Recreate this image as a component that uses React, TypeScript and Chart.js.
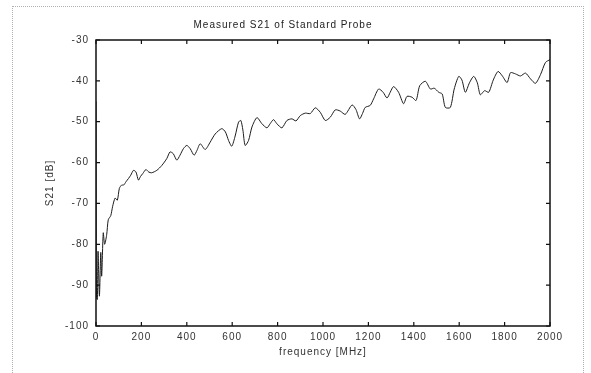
import React, { useEffect, useRef } from "react";
import { Chart, registerables } from "chart.js";

Chart.register(...registerables);

const freqMHz: number[] = [
  0, 2, 6, 9, 15, 21, 25, 32, 38, 47, 54, 65, 73, 84, 94, 103, 113, 122, 132, 143,
  153, 165, 176, 187, 196, 206, 220, 232, 245, 268, 290, 312, 326, 340, 356, 370,
  385, 400, 415, 432, 445, 459, 481, 503, 525, 554, 570, 584, 598, 613, 628, 638,
  647, 657, 672, 687, 709, 731, 753, 767, 782, 797, 819, 841, 863, 881, 900, 922,
  944, 966, 988, 1010, 1032, 1054, 1076, 1098, 1128, 1145, 1161, 1174, 1186, 1208,
  1223, 1245, 1265, 1282, 1296, 1311, 1333, 1355, 1370, 1392, 1410, 1426, 1451,
  1473, 1490, 1510, 1525, 1539, 1561, 1578, 1598, 1612, 1627, 1645, 1664, 1680,
  1693, 1712, 1730, 1750, 1771, 1790, 1811, 1826, 1848, 1870, 1892, 1914, 1936,
  1958, 1980, 2000,
];

const s21dB: number[] = [
  -45, -93, -93.5, -81.7, -92.7, -82, -87.8, -77.2, -80, -77.7, -74, -73, -70.8,
  -68.7, -69.2, -66.3, -65.5, -65.5, -64.7, -63.9, -63.1, -61.9, -62.3, -64.3,
  -63.4, -62.7, -61.7, -62.3, -62.5, -61.9, -60.7, -59, -57.4, -57.8, -59.4, -58.2,
  -56.6, -55.8, -56.6, -58.2, -57, -55.4, -56.8, -55, -53, -51.7, -52.5, -54.6, -56,
  -53.5, -50.1, -49.7, -52, -55.8, -54.6, -51.3, -49, -50.5, -51.5, -50.5, -49.5,
  -50.5, -51.5, -49.7, -49.3, -49.8, -48.5, -47.9, -48, -46.6, -47.7, -49.7, -48.9,
  -47.1, -47.4, -48.2, -45.9, -47, -49.3, -48, -46.5, -46, -44.4, -42, -42.8, -44.2,
  -42.8, -41.4, -42.8, -45.6, -43.8, -44, -44.8, -41.2, -40.1, -42, -41.8, -42.8,
  -43.2, -46.5, -46.5, -42, -38.9, -39.8, -42.8, -40.5, -38.9, -40.5, -43.4, -42.4,
  -42.8, -39.8, -37.7, -38.8, -40.4, -38, -38.3, -38.8, -38.1, -39.5, -40.6, -38.5,
  -35.5, -34.8,
];

const xTicks: number[] = [0, 200, 400, 600, 800, 1000, 1200, 1400, 1600, 1800, 2000];
const yTicks: number[] = [-100, -90, -80, -70, -60, -50, -40, -30];

const chartTitle = "Measured S21 of Standard Probe";
const xTitle = "frequency [MHz]";
const yTitle = "S21 [dB]";

const FONT = "'Liberation Sans', Arial, sans-serif";

const spacingPlugin = {
  id: "spacing",
  beforeUpdate(chart: any) {
    try {
      chart.ctx.letterSpacing = "1px";
    } catch (e) {}
  },
  beforeDraw(chart: any) {
    try {
      chart.ctx.letterSpacing = "1px";
    } catch (e) {}
  },
};

const boxPlugin = {
  id: "box",
  afterDraw(chart: any) {
    const { ctx, chartArea } = chart;
    const { left, right, top, bottom } = chartArea;
    const xs = chart.scales.x;
    const ys = chart.scales.y;
    ctx.save();
    ctx.strokeStyle = "#111";
    ctx.lineWidth = 1.5;
    ctx.strokeRect(left, top, right - left, bottom - top);
    ctx.lineWidth = 1.2;
    const tl = 4;
    ctx.beginPath();
    xTicks.forEach((v) => {
      const px = xs.getPixelForValue(v);
      ctx.moveTo(px, bottom);
      ctx.lineTo(px, bottom - tl);
      ctx.moveTo(px, top);
      ctx.lineTo(px, top + tl);
    });
    yTicks.forEach((v) => {
      const py = ys.getPixelForValue(v);
      ctx.moveTo(left, py);
      ctx.lineTo(left + tl, py);
      ctx.moveTo(right, py);
      ctx.lineTo(right - tl, py);
    });
    ctx.stroke();
    ctx.fillStyle = "#222";
    ctx.font = `10px ${FONT}`;
    try {
      ctx.letterSpacing = "1px";
    } catch (e) {}
    ctx.textAlign = "center";
    ctx.textBaseline = "middle";
    ctx.fillText(chartTitle, 283, 25);
    ctx.restore();
  },
};

export default function App() {
  const ref = useRef<HTMLCanvasElement | null>(null);
  useEffect(() => {
    if (!ref.current) return;
    const chart = new Chart(ref.current, {
      type: "line",
      data: {
        datasets: [
          {
            data: freqMHz.map((f, i) => ({ x: f, y: s21dB[i] })),
            borderColor: "#1c1c1c",
            borderWidth: 1,
            pointRadius: 0,
            tension: 0.25,
            fill: false,
          },
        ],
      },
      options: {
        responsive: false,
        animation: false,
        layout: { padding: { left: 0, right: 41, top: 40, bottom: 0 } },
        plugins: {
          legend: { display: false },
          tooltip: { enabled: false },
          title: { display: false },
        },
        scales: {
          x: {
            type: "linear",
            min: 0,
            max: 2000,
            afterBuildTicks: (s: any) => {
              s.ticks = xTicks.map((v) => ({ value: v }));
            },
            afterFit: (s: any) => {
              s.height = 47;
            },
            ticks: {
              autoSkip: false,
              maxRotation: 0,
              padding: 5,
              color: "#333",
              font: { family: FONT, size: 10 },
              callback: (v: any) => String(v),
            },
            grid: { display: false, drawTicks: false },
            border: { display: false },
            title: {
              display: true,
              text: xTitle,
              color: "#333",
              font: { family: FONT, size: 10 },
              padding: { top: 0, bottom: 15 },
            },
          },
          y: {
            type: "linear",
            min: -100,
            max: -30,
            afterBuildTicks: (s: any) => {
              s.ticks = yTicks.map((v) => ({ value: v }));
            },
            afterFit: (s: any) => {
              s.width = 96;
            },
            ticks: {
              autoSkip: false,
              padding: 7,
              color: "#333",
              font: { family: FONT, size: 10 },
              callback: (v: any) => String(v),
            },
            grid: { display: false, drawTicks: false },
            border: { display: false },
            title: {
              display: true,
              text: yTitle,
              color: "#333",
              font: { family: FONT, size: 10 },
              padding: { top: 44, bottom: 0 },
            },
          },
        },
      },
      plugins: [spacingPlugin, boxPlugin],
    });
    return () => chart.destroy();
  }, []);

  return (
    <div
      style={{
        position: "fixed",
        left: 0,
        top: 0,
        width: 591,
        height: 373,
        background: "#fff",
        overflow: "hidden",
      }}
    >
      <div
        style={{
          position: "absolute",
          left: 12,
          top: 6,
          width: 570,
          height: 420,
          borderTop: "1px dotted #b0b0b0",
          borderLeft: "1px dotted #b0b0b0",
          borderRight: "1px dotted #b0b0b0",
        }}
      />
      <canvas
        ref={ref}
        width={591}
        height={373}
        style={{ position: "absolute", left: 0, top: 0, width: 591, height: 373 }}
      />
    </div>
  );
}
